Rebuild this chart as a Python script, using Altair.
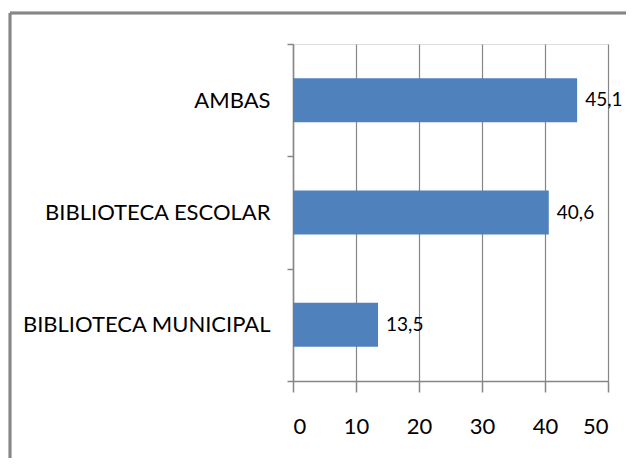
import altair as alt
import pandas as pd

categories = ["AMBAS", "BIBLIOTECA ESCOLAR", "BIBLIOTECA MUNICIPAL"]
values = [45.1, 40.6, 13.5]
x_ticks = [0, 10, 20, 30, 40, 50]

df = pd.DataFrame({"cat": categories, "v": values})

FONT = "Lato"
GRAY = "#868686"
FS = 22

base = alt.Chart(df)

y_enc = alt.Y(
    "cat:N",
    sort=categories,
    title=None,
    scale=alt.Scale(paddingInner=0, paddingOuter=0),
    axis=alt.Axis(
        tickBand="extent",
        domainColor=GRAY,
        domainWidth=1.5,
        tickColor=GRAY,
        tickWidth=1.5,
        tickSize=6,
        labelPadding=17,
        labelFont=FONT,
        labelFontSize=FS,
        labelLimit=0,
        labelColor="#000000",
        grid=False,
    ),
)

x_enc = alt.X(
    "v:Q",
    title=None,
    scale=alt.Scale(domain=[0, 50], nice=False),
    axis=alt.Axis(
        values=x_ticks,
        domainColor=GRAY,
        domainWidth=1.5,
        tickColor=GRAY,
        tickWidth=1.5,
        tickSize=11,
        gridColor=GRAY,
        gridWidth=1.2,
        gridOpacity=1,
        labelPadding=24,
        labelFont=FONT,
        labelFontSize=FS,
        labelColor="#000000",
    ),
)

bars = base.mark_bar(color="#4F81BD", size=44).encode(x=x_enc, y=y_enc)

labels = base.transform_calculate(
    lab="replace(format(datum.v, '.1f'), '.', ',')"
).mark_text(align="left", baseline="middle", dx=8, font=FONT, fontSize=19, color="#000000").encode(
    x="v:Q", y=alt.Y("cat:N", sort=categories), text="lab:N"
)

frame_top = base.mark_rule(color=GRAY, strokeWidth=2.5).encode(
    x=alt.value(-283), x2=alt.value(400), y=alt.value(-31)
)
frame_left = base.mark_rule(color=GRAY, strokeWidth=2.5).encode(
    x=alt.value(-283), y=alt.value(-31), y2=alt.value(500)
)

chart = (
    alt.layer(bars, labels, frame_top, frame_left)
    .properties(
        width=315,
        height=337,
        autosize=alt.AutoSizeParams(type="none"),
        padding={"left": 285, "top": 36, "right": 18, "bottom": 77},
    )
    .configure_view(stroke=None)
    .configure(background="white")
)

chart.save("out.html", embed_options={"renderer": "svg", "actions": False})
